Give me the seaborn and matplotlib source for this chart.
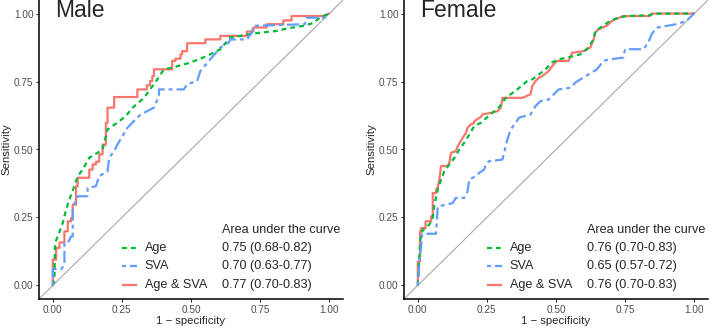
import matplotlib
matplotlib.use("Agg")
import matplotlib.pyplot as plt
import seaborn as sns
import pandas as pd

# ROC curves (1 - specificity, sensitivity)
male_age_fpr = [0, 0.006, 0.008, 0.018, 0.036, 0.048, 0.06, 0.078, 0.09, 0.108, 0.132, 0.162, 0.18, 0.198,
                0.234, 0.264, 0.29, 0.33, 0.378, 0.402, 0.432, 0.498, 0.558, 0.606, 0.642, 0.678, 0.726, 0.81,
                0.846, 0.906, 0.942, 0.966, 1.0]
male_age_tpr = [0, 0.02, 0.156, 0.18, 0.23, 0.279, 0.316, 0.365, 0.402, 0.426, 0.47, 0.488, 0.5, 0.574,
                0.599, 0.623, 0.655, 0.69, 0.758, 0.795, 0.801, 0.82, 0.844, 0.869, 0.912, 0.918, 0.927, 0.936,
                0.945, 0.955, 0.965, 0.985, 1.0]

male_sva_fpr = [0, 0, 0.03, 0.042, 0.042, 0.054, 0.066, 0.072, 0.072, 0.084, 0.09, 0.126, 0.126, 0.156, 0.168,
                0.198, 0.204, 0.222, 0.234, 0.252, 0.27, 0.294, 0.318, 0.33, 0.366, 0.384, 0.384, 0.474, 0.486,
                0.522, 0.534, 0.57, 0.606, 0.636, 0.642, 0.702, 0.72, 0.726, 0.912, 0.918, 0.984, 1.0]
male_sva_tpr = [0, 0.06, 0.06, 0.075, 0.156, 0.156, 0.18, 0.18, 0.29, 0.31, 0.328, 0.328, 0.359, 0.365, 0.402,
                0.42, 0.47, 0.494, 0.519, 0.549, 0.58, 0.605, 0.629, 0.635, 0.654, 0.697, 0.721, 0.721, 0.74,
                0.752, 0.789, 0.832, 0.875, 0.893, 0.905, 0.905, 0.93, 0.955, 0.961, 0.985, 0.985, 1.0]

male_both_fpr = [0, 0, 0.012, 0.012, 0.024, 0.024, 0.042, 0.042, 0.054, 0.054, 0.066, 0.066, 0.072, 0.072,
                 0.084, 0.084, 0.09, 0.09, 0.132, 0.132, 0.144, 0.144, 0.156, 0.156, 0.168, 0.168, 0.18, 0.18,
                 0.192, 0.192, 0.198, 0.198, 0.222, 0.222, 0.306, 0.306, 0.34, 0.34, 0.352, 0.352, 0.36, 0.36,
                 0.366, 0.366, 0.432, 0.432, 0.444, 0.444, 0.462, 0.462, 0.468, 0.468, 0.486, 0.486, 0.552,
                 0.552, 0.606, 0.606, 0.702, 0.702, 0.726, 0.726, 0.774, 0.774, 0.834, 0.834, 0.864, 0.864,
                 0.978, 1.0]
male_both_tpr = [0, 0.095, 0.095, 0.138, 0.138, 0.158, 0.158, 0.199, 0.199, 0.236, 0.236, 0.248, 0.248, 0.297,
                 0.297, 0.365, 0.365, 0.396, 0.396, 0.426, 0.426, 0.445, 0.445, 0.455, 0.455, 0.482, 0.482,
                 0.518, 0.518, 0.598, 0.598, 0.654, 0.654, 0.693, 0.693, 0.721, 0.721, 0.736, 0.736, 0.752,
                 0.752, 0.77, 0.77, 0.795, 0.795, 0.826, 0.826, 0.834, 0.834, 0.85, 0.85, 0.862, 0.862, 0.891,
                 0.891, 0.905, 0.905, 0.918, 0.918, 0.934, 0.934, 0.949, 0.949, 0.961, 0.961, 0.975, 0.975,
                 0.991, 0.991, 1.0]

female_age_fpr = [0, 0.004, 0.008, 0.012, 0.024, 0.042, 0.054, 0.06, 0.072, 0.084, 0.096, 0.114, 0.132, 0.15,
                  0.168, 0.186, 0.204, 0.228, 0.258, 0.294, 0.318, 0.36, 0.396, 0.414, 0.438, 0.462, 0.486,
                  0.51, 0.54, 0.564, 0.588, 0.612, 0.636, 0.642, 0.66, 0.696, 0.726, 0.756, 0.84, 0.852, 1.0]
female_age_tpr = [0, 0.082, 0.15, 0.193, 0.211, 0.224, 0.248, 0.297, 0.353, 0.389, 0.42, 0.445, 0.469, 0.5,
                  0.525, 0.555, 0.586, 0.598, 0.625, 0.655, 0.69, 0.721, 0.752, 0.758, 0.776, 0.795, 0.82,
                  0.832, 0.838, 0.844, 0.85, 0.869, 0.905, 0.936, 0.948, 0.973, 0.985, 0.991, 0.994, 1.0, 1.0]

female_sva_fpr = [0, 0.004, 0.006, 0.012, 0.016, 0.066, 0.072, 0.102, 0.126, 0.138, 0.168, 0.18, 0.186, 0.21,
                  0.222, 0.24, 0.246, 0.258, 0.306, 0.318, 0.324, 0.336, 0.354, 0.366, 0.408, 0.426, 0.444,
                  0.474, 0.492, 0.51, 0.552, 0.57, 0.588, 0.624, 0.648, 0.672, 0.696, 0.744, 0.75, 0.816,
                  0.834, 0.846, 0.864, 0.936, 0.972, 0.99, 1.0]
female_sva_tpr = [0, 0.052, 0.095, 0.144, 0.19, 0.19, 0.29, 0.297, 0.303, 0.322, 0.322, 0.346, 0.389, 0.402,
                  0.414, 0.426, 0.445, 0.457, 0.463, 0.512, 0.537, 0.574, 0.598, 0.617, 0.629, 0.66, 0.678,
                  0.684, 0.703, 0.721, 0.727, 0.746, 0.758, 0.78, 0.795, 0.826, 0.832, 0.838, 0.869, 0.869,
                  0.893, 0.924, 0.948, 0.961, 0.973, 0.991, 1.0]

female_both_fpr = [0, 0, 0.008, 0.008, 0.012, 0.028, 0.028, 0.048, 0.048, 0.054, 0.054, 0.066, 0.066, 0.072,
                   0.078, 0.084, 0.108, 0.114, 0.12, 0.138, 0.144, 0.156, 0.162, 0.174, 0.18, 0.192, 0.204,
                   0.204, 0.228, 0.234, 0.264, 0.288, 0.3, 0.306, 0.378, 0.408, 0.414, 0.426, 0.438, 0.45, 0.474,
                   0.486, 0.504, 0.546, 0.558, 0.6, 0.612, 0.624, 0.636, 0.642, 0.654, 0.666, 0.684, 0.702,
                   0.714, 0.744, 0.84, 0.846, 1.0]
female_both_tpr = [0, 0.088, 0.088, 0.193, 0.211, 0.211, 0.236, 0.236, 0.254, 0.254, 0.34, 0.34, 0.353, 0.36,
                   0.389, 0.439, 0.439, 0.451, 0.488, 0.494, 0.512, 0.531, 0.543, 0.561, 0.58, 0.592, 0.598,
                   0.604, 0.62, 0.629, 0.635, 0.641, 0.653, 0.69, 0.69, 0.703, 0.733, 0.752, 0.764, 0.77, 0.789,
                   0.807, 0.826, 0.826, 0.856, 0.862, 0.869, 0.875, 0.905, 0.93, 0.942, 0.948, 0.955, 0.973,
                   0.979, 0.991, 0.991, 1.0, 1.0]

models = ["Age", "SVA", "Age & SVA"]
male_auc = ["0.75 (0.68-0.82)", "0.70 (0.63-0.77)", "0.77 (0.70-0.83)"]
female_auc = ["0.76 (0.70-0.83)", "0.65 (0.57-0.72)", "0.76 (0.70-0.83)"]

colors = {"Age": "#00BA38", "SVA": "#619CFF", "Age & SVA": "#F8766D"}
dashes = {"Age": (2.2, 1.8), "SVA": (1.8, 1.8, 5.4, 1.8), "Age & SVA": ""}
LW = 1.6

sns.set_style("white")
plt.rcParams["font.family"] = ["Liberation Sans", "DejaVu Sans"]

fig = plt.figure(figsize=(7.09, 3.28), dpi=100)
ax1 = fig.add_axes([39 / 709, 29 / 328, 304 / 709, 299 / 328])
ax2 = fig.add_axes([404 / 709, 29 / 328, 304 / 709, 299 / 328])

panels = [
    (ax1, "Male", {"Age": (male_age_fpr, male_age_tpr), "SVA": (male_sva_fpr, male_sva_tpr),
                   "Age & SVA": (male_both_fpr, male_both_tpr)}, male_auc),
    (ax2, "Female", {"Age": (female_age_fpr, female_age_tpr), "SVA": (female_sva_fpr, female_sva_tpr),
                     "Age & SVA": (female_both_fpr, female_both_tpr)}, female_auc),
]

for ax, title, curves, aucs in panels:
    ax.axline((0, 0), (1, 1), color="#A8A8A8", lw=0.8, zorder=1)
    for m in ["Age & SVA", "Age", "SVA"]:
        fpr, tpr = curves[m]
        df = pd.DataFrame({"fpr": fpr, "tpr": tpr})
        sns.lineplot(data=df, x="fpr", y="tpr", ax=ax, sort=False, estimator=None,
                     color=colors[m], lw=LW, dashes=False, zorder=3)
        if dashes[m]:
            ax.lines[-1].set_dashes(dashes[m])

    # legend drawn inside the panel, ggplot style
    ax.text(0.612, 0.205, "Area under the curve", fontsize=9.1, va="center", ha="left")
    for i, m in enumerate(models):
        yy = 0.138 - i * 0.0675
        ln, = ax.plot([0.25, 0.306], [yy, yy], color=colors[m], lw=LW, solid_capstyle="butt")
        if dashes[m]:
            ln.set_dashes(dashes[m])
        ax.text(0.333, yy, m, fontsize=9.1, va="center", ha="left")
        ax.text(0.612, yy, aucs[i], fontsize=9.1, va="center", ha="left")

    ax.text(0.008, 1.012, title, fontsize=16.5, va="center", ha="left")

    ax.set_xlim(-0.05, 1.05)
    ax.set_ylim(-0.05, 1.05)
    ax.set_xticks([0, 0.25, 0.5, 0.75, 1.0])
    ax.set_yticks([0, 0.25, 0.5, 0.75, 1.0])
    ax.set_xticklabels(["0.00", "0.25", "0.50", "0.75", "1.00"])
    ax.set_yticklabels(["0.00", "0.25", "0.50", "0.75", "1.00"])
    ax.tick_params(axis="both", length=2.5, width=0.6, pad=1.5, labelsize=7.2,
                   labelcolor="#4D4D4D", color="black", direction="out", bottom=True, left=True)
    ax.set_xlabel("1 \u2212 specificity", fontsize=8.2, labelpad=1)
    ax.set_ylabel("Sensitivity", fontsize=8.2, labelpad=2)
    for s in ["top", "right"]:
        ax.spines[s].set_visible(False)
    for s in ["left", "bottom"]:
        ax.spines[s].set_color("black")
        ax.spines[s].set_linewidth(1.1)

fig.savefig("out.png", dpi=100)
